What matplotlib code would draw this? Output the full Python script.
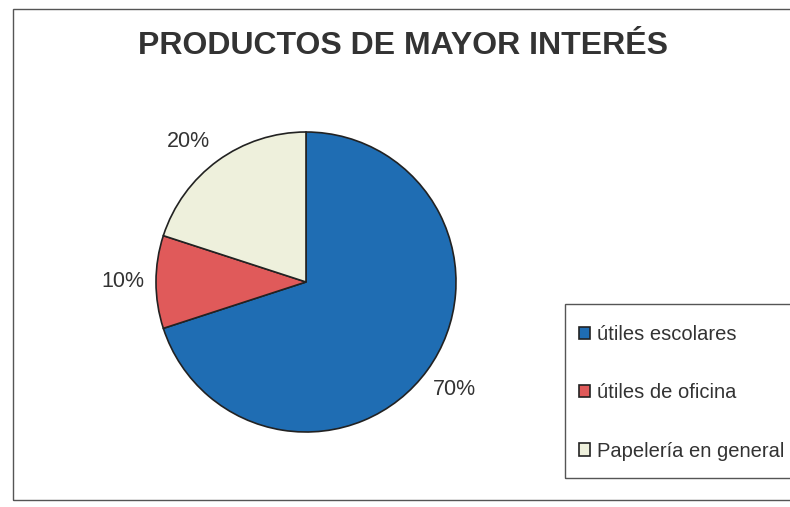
import numpy as np
import matplotlib.pyplot as plt
from matplotlib.patches import Rectangle

plt.rcParams['font.family'] = ['Liberation Sans', 'DejaVu Sans']

# datos del gráfico
categorias = ["útiles escolares", "útiles de oficina", "Papelería en general"]
porcentajes = [70, 10, 20]
colores = ["#1f6db3", "#e05a5a", "#eef0dc"]
titulo = "PRODUCTOS DE MAYOR INTERÉS"

W, H = 790, 507
fig = plt.figure(figsize=(W / 100, H / 100), dpi=100)


def fx(px):
    return px / W


def fy(py):
    return 1 - py / H


# marco del gráfico
fig.patches.append(Rectangle((fx(13), fy(500)), fx(800) - fx(13), fy(9) - fy(500),
                             transform=fig.transFigure, fill=False,
                             edgecolor="#555555", linewidth=1.0))

fig.text(fx(403), fy(46), titulo, ha="center", va="center",
         fontsize=23, fontweight="bold", color="#333333")

# ejes del pastel: centro (306, 282), radio 150 px
ax = fig.add_axes([fx(156), fy(432), 300 / W, 300 / H])
wedges, texts, autotexts = ax.pie(
    porcentajes, colors=colores, startangle=90, counterclock=False,
    autopct="%d%%", pctdistance=1.22,
    wedgeprops=dict(edgecolor="#222222", linewidth=1.2),
    textprops=dict(fontsize=15.5, color="#333333"))
ax.set_aspect("equal")
ax.set_xlim(-1, 1)
ax.set_ylim(-1, 1)
ax.axis("off")

# pequeño ajuste de la etiqueta del 20 %
w = wedges[2]
ang = np.deg2rad((w.theta1 + w.theta2) / 2 + 4)
autotexts[2].set_position((1.22 * np.cos(ang), 1.22 * np.sin(ang)))

# caja de la leyenda
fig.patches.append(Rectangle((fx(565), fy(478)), fx(800) - fx(565), fy(304) - fy(478),
                             transform=fig.transFigure, fill=False,
                             edgecolor="#555555", linewidth=1.0))
leg = fig.legend(wedges, categorias, loc="upper left",
                 bbox_to_anchor=(fx(579), fy(325)), frameon=False,
                 fontsize=14.5, labelspacing=1.95, handlelength=0.57,
                 handleheight=0.57, handletextpad=0.3, borderaxespad=0,
                 borderpad=0)
for t in leg.get_texts():
    t.set_color("#333333")

fig.savefig("out.png", dpi=100)
